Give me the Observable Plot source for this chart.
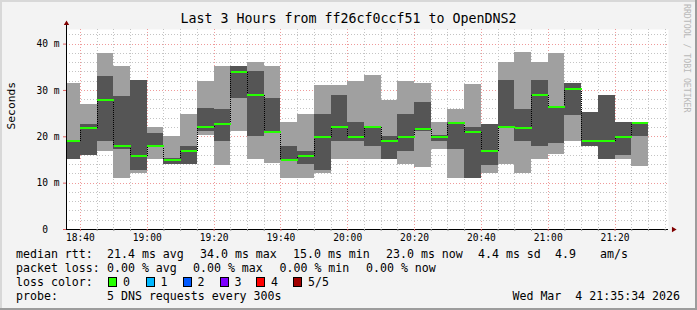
<!DOCTYPE html>
<html><head><meta charset="utf-8">
<script src="https://cdn.jsdelivr.net/npm/d3@7"></script>
<script src="https://cdn.jsdelivr.net/npm/@observablehq/plot@0.6"></script>
<style>
html,body{margin:0;padding:0;background:#f3f3f3;}
#card{position:relative;width:697px;height:310px;background:#f3f3f3;overflow:hidden;font-family:"DejaVu Sans Mono",monospace;color:#000;}
#card svg{position:absolute;left:0;top:0;}
.t{position:absolute;white-space:pre;font-size:11.6px;line-height:14px;}
.box{position:absolute;width:9px;height:10px;border:1px solid #000;box-sizing:border-box;}
#title{position:absolute;left:0;width:697px;top:11px;text-align:center;font-size:13.3px;line-height:16px;white-space:pre;}
#rrd{position:absolute;left:682px;top:4px;writing-mode:vertical-rl;font-size:8.2px;color:#b8b8b8;white-space:pre;}
.edge{position:absolute;}
</style></head>
<body>
<div id="card">
  <div id="title">Last 3 Hours from ff26cf0ccf51 to OpenDNS2</div>
  <div id="rrd">RRDTOOL / TOBI OETIKER</div>
</div>
<script>
// ---- data ----
const endTimes = ["18:40","18:45","18:50","18:55","19:00","19:05","19:10","19:15","19:20","19:25","19:30","19:35","19:40","19:45","19:50","19:55","20:00","20:05","20:10","20:15","20:20","20:25","20:30","20:35","20:40","20:45","20:50","20:55","21:00","21:05","21:10","21:15","21:20","21:25","21:30"];
const pingMax   = [31.6,26.9,38.0,35.1,32.1,21.9,20.0,24.9,31.9,35.1,35.1,36.0,35.1,23.0,24.9,31.0,31.0,31.9,33.2,27.9,31.9,31.4,23.0,25.8,31.2,22.7,36.0,38.1,36.0,37.9,31.4,25.2,29.0,23.0,23.1];
const pingHigh  = [19.1,22.7,33.0,28.8,32.1,20.8,15.3,17.8,26.0,25.8,35.1,34.0,28.2,18.0,16.9,24.9,29.0,23.0,22.3,20.0,24.9,27.5,20.2,23.1,22.1,22.7,32.1,25.8,32.1,26.4,31.4,25.2,29.0,23.0,23.1];
const medianRtt = [19.0,21.9,28.0,18.0,15.9,18.0,15.0,16.9,22.1,22.8,34.0,29.0,21.1,15.0,15.9,20.0,22.1,20.0,22.1,19.0,20.0,21.7,20.0,23.0,21.1,16.9,22.1,21.9,29.0,26.4,30.3,19.0,19.0,20.0,23.0];
const pingLow   = [15.0,15.9,19.0,17.2,12.8,17.9,14.1,14.0,21.1,18.9,28.2,20.0,21.0,14.9,14.1,12.8,18.9,18.9,18.0,15.0,16.9,21.2,18.9,17.2,10.9,13.9,21.9,18.9,18.0,18.5,24.7,18.0,15.0,15.9,20.0];
const pingMin   = [15.0,15.9,16.9,10.9,12.0,15.0,14.1,14.0,20.2,13.9,21.1,15.0,14.2,10.9,10.9,12.0,15.0,15.0,15.0,15.0,14.1,13.3,17.2,10.9,10.9,12.0,14.1,12.0,15.0,16.1,19.0,18.0,15.0,15.0,13.7];
const stepMinutes = 5;
const windowStart = "18:35:50", windowEnd = "21:36:00";
const timeTicks = ["18:40","19:00","19:20","19:40","20:00","20:20","20:40","21:00","21:20"];
const yTicks = [0,10,20,30,40];
const yTickLabels = ["0\u00a0\u00a0","10 m","20 m","30 m","40 m"];
const yTop = 43.15;
const medianStats = ["median rtt:","21.4 ms avg","34.0 ms max","15.0 ms min","23.0 ms now","4.4 ms sd","4.9","am/s"];
const lossStats = ["packet loss:","0.00 % avg","0.00 % max","0.00 % min","0.00 % now"];
const lossLabels = ["0","1","2","3","4","5/5"];
const lossColors = ["#26ff00","#00b8ff","#0059ff","#7e00ff","#ff0000","#a10000"];
const probeText = ["probe:","5 DNS requests every 300s"];
const stampText = "Wed Mar  4 21:35:34 2026";

// ---- build ----
const at = s => { const [h,m,sec=0] = s.split(":").map(Number); return new Date(2026,2,4,h,m,sec); };
const t0 = at(windowStart), t1 = at(windowEnd);
const rows = endTimes.map((e,i) => ({
  end: at(e), start: d3.timeMinute.offset(at(e), -stepMinutes),
  p1: pingMin[i], p2: pingLow[i], med: medianRtt[i], p4: pingHigh[i], p5: pingMax[i]
}));
const links = rows.slice(1).map((r,i) => ({t: r.start, from: rows[i].med, to: r.med}));
const majorT = timeTicks.map(at);
const minorT = d3.timeMinute.every(5).range(t0, t1).filter(d => d.getMinutes() % 20 !== 0);
const minorY = d3.range(2, yTop, 2).filter(v => v % 10 !== 0);
const majorY = yTicks.filter(v => v > 0);
const dash = {strokeDasharray: "1,2", shapeRendering: "crispEdges"};

const svg = Plot.plot({
  width: 697, height: 245,
  marginLeft: 66, marginRight: 29, marginTop: 29, marginBottom: 16,
  style: {background: "transparent", fontFamily: "DejaVu Sans Mono", fontSize: "9.6px", color: "#000", overflow: "visible"},
  x: {type: "time", domain: [t0, t1], axis: null, label: null},
  y: {domain: [0, yTop], axis: null, label: null},
  marks: [
    Plot.frame({fill: "#ffffff", stroke: null}),
    Plot.ruleX(minorT, {stroke: "#c4c4c4", ...dash}),
    Plot.ruleY(minorY, {stroke: "#c4c4c4", ...dash}),
    Plot.ruleX(majorT, {stroke: "#ef9a9a", ...dash}),
    Plot.ruleY(majorY, {stroke: "#ef9a9a", ...dash}),
    Plot.rect(rows, {x1: "start", x2: "end", y1: "p1", y2: "p5", fill: "#a0a0a0", clip: true, shapeRendering: "crispEdges"}),
    Plot.rect(rows, {x1: "start", x2: "end", y1: "p2", y2: "p4", fill: "#555555", clip: true, shapeRendering: "crispEdges"}),
    Plot.link(links, {x1: "t", x2: "t", y1: "from", y2: "to", stroke: "#000", strokeDasharray: "1,1", shapeRendering: "crispEdges"}),
    Plot.link(rows, {x1: "start", x2: "end", y1: "med", y2: "med", stroke: "#26ff00", strokeWidth: 2, clip: true, shapeRendering: "crispEdges"}),
    Plot.ruleY([0], {stroke: "#000", shapeRendering: "crispEdges"}),
    Plot.ruleX([t0], {y1: 0, y2: yTop + 1.4, stroke: "#000", shapeRendering: "crispEdges"}),
    Plot.dot([0], {frameAnchor: "top-left", dy: -6, symbol: "triangle", r: 2, fill: "#800000", stroke: null}),
    Plot.dot([0], {frameAnchor: "bottom-right", dx: 5, rotate: 90, symbol: "triangle", r: 2, fill: "#800000", stroke: null}),
    Plot.axisX(minorT, {tickSize: 2, tickFormat: () => "", stroke: "#999", label: null}),
    Plot.axisX(majorT, {tickSize: 2, tickPadding: 3, tickFormat: d3.timeFormat("%H:%M"), stroke: "#e06060", label: null}),
    Plot.axisY(yTicks, {tickSize: 3, tickPadding: 4, tickFormat: d => yTickLabels[yTicks.indexOf(d)], stroke: "#e06060", label: null}),
    Plot.text(["Seconds"], {frameAnchor: "left", dx: -55, rotate: -90, fontSize: 11.3, fill: "#000"})
  ]
});
const card = document.getElementById("card");
card.insertBefore(svg, card.firstChild);

// ---- legend ----
function put(text, left, top, extra) {
  const d = document.createElement("div");
  d.className = "t"; d.textContent = text;
  d.style.left = left + "px"; d.style.top = top + "px";
  if (extra) Object.assign(d.style, extra);
  card.appendChild(d);
}
const line1X = [16,107,200,293,386,478,555,600];
medianStats.forEach((s,i) => put(s, line1X[i], 247));
const line2X = [16,107,193,279.5,366];
lossStats.forEach((s,i) => put(s, line2X[i], 261));
put("loss color:", 16, 275);
const boxX = [108,145.5,182.5,219.5,256,293];
lossLabels.forEach((s,i) => {
  const b = document.createElement("div");
  b.className = "box"; b.style.left = boxX[i] + "px"; b.style.top = "277px"; b.style.background = lossColors[i];
  card.appendChild(b);
  put(s, boxX[i] + 15, 275);
});
put(probeText[0], 16, 289);
put(probeText[1], 107, 289);
put(stampText, 0, 289, {left: "auto", right: "17px"});

// 3D edges
[["0","0","697px","2px","#d8d8d8"],["0","0","2px","310px","#d8d8d8"],["0","308px","697px","2px","#9c9c9c"],["695px","0","2px","310px","#9c9c9c"]].forEach(([l,t,w,h,c]) => {
  const e = document.createElement("div"); e.className = "edge";
  Object.assign(e.style, {left: l, top: t, width: w, height: h, background: c});
  card.appendChild(e);
});
</script>
</body></html>
